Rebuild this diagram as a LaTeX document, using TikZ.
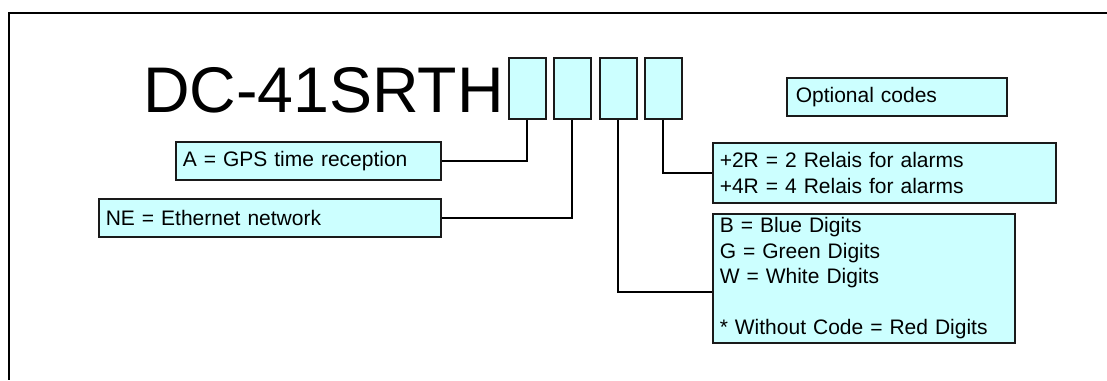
\documentclass[tikz,border=0pt]{standalone}
\usepackage{fontspec}
\setmainfont{Liberation Sans}
\definecolor{boxfill}{HTML}{CCFFFF}
\definecolor{boxline}{HTML}{1A1A1A}
\tikzset{
  codebox/.style={draw=boxline, line width=1.5pt, fill=boxfill, anchor=north west,
    inner sep=0pt, inner xsep=7pt, align=left,
    font=\fontsize{21}{25.5}\selectfont},
  slotbox/.style={draw=boxline, line width=1.5pt, fill=boxfill, anchor=north west,
    inner sep=0pt, minimum width=37pt, minimum height=61pt},
  link/.style={draw=black, line width=2pt}
}
\begin{document}
\begin{tikzpicture}[x=1pt,y=-1pt]
\useasboundingbox (0,0) rectangle (1107,380);
\draw[line width=1.5pt, black] (1107,13) -- (9,13) -- (9,380);

\node[anchor=base west, inner sep=0pt, font=\fontsize{64.5}{70}\selectfont] (title) at (143,112) {DC-41SRTH};

\node[slotbox] (c1) at (508,57) {};
\node[slotbox] (c2) at (553,57) {};
\node[slotbox] (c3) at (599,57) {};
\node[slotbox] (c4) at (644,57) {};

\node[codebox, text width=251pt, minimum height=38pt] (gps) at (175,141) {A = GPS time reception};
\node[codebox, text width=328pt, minimum height=38pt] (ne) at (98,198) {NE = Ethernet network};
\node[codebox, text width=329pt, minimum height=60pt] (relais) at (712,142) {+2R = 2 Relais for alarms\\+4R = 4 Relais for alarms};
\node[codebox, text width=288pt, minimum height=129pt] (digits) at (712,213) {B = Blue Digits\\G = Green Digits\\W = White Digits\\[25.5pt]* Without Code = Red Digits};
\node[codebox, inner xsep=9pt, text width=202pt, minimum height=38pt] (opt) at (786,77) {Optional codes};

\draw[link] (c1.south) |- (gps.east);
\draw[link] (c2.south) |- (ne.east);
\draw[link] (c3.south) |- ([yshift=-13.5pt]digits.west);
\draw[link] (c4.south) |- (relais.west);
\end{tikzpicture}
\end{document}
